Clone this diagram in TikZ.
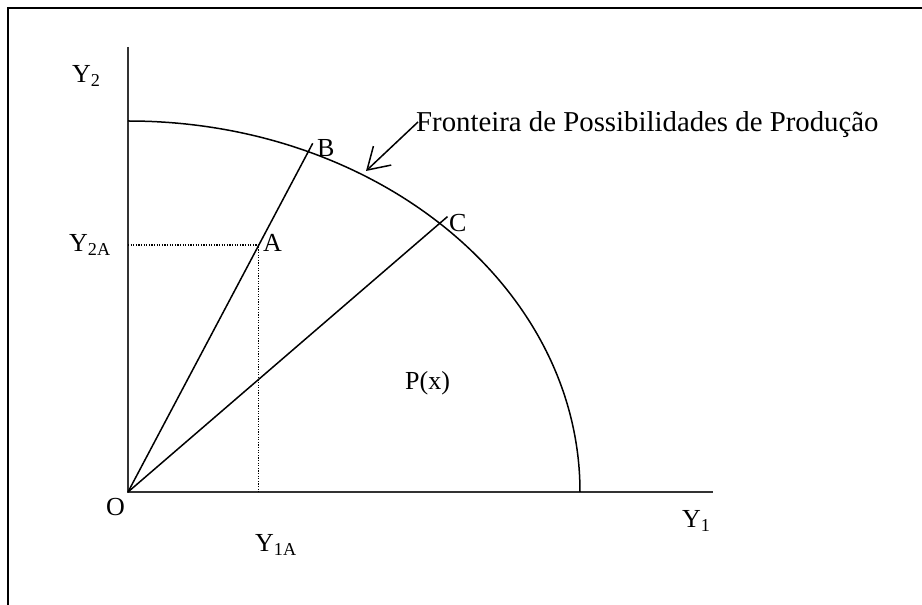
\documentclass[tikz,border=0pt]{standalone}
\usepackage{fontspec}
\setmainfont{Liberation Serif}
\usetikzlibrary{arrows.meta, calc}

\begin{document}
\begin{tikzpicture}[
    x=1pt, y=1pt,
    axis/.style={line width=2.4pt, black!80},
    curve/.style={line width=1.5pt},
    guide/.style={line width=1.2pt, dash pattern=on 1.2pt off 1.4pt},
    lbl/.style={font=\fontsize{26}{30}\selectfont, inner sep=0pt, anchor=base west},
    pointer/.style={-{Straight Barb[length=21pt, width=26pt]}, line width=1.5pt}
]
\useasboundingbox (0,0) rectangle (922,605);
% Frame
\draw[line width=2.5pt] (8,0) -- (8,597) -- (922,597);

% Axes
\coordinate (O) at (128,113);
\coordinate (y2end) at (128,558);
\coordinate (y1end) at (713,113);
\draw[axis] (y2end) -- (O) -- (y1end);

% Frontier and rays
\draw[curve] (128,484) arc[start angle=90, end angle=0, x radius=452, y radius=371];
\coordinate (B) at ($(O)+(66.5:452 and 371)$);
\coordinate (C) at ($(O)+(46.4:452 and 371)$);
\coordinate (A) at ($(O)!0.726!(B)$);
\draw[curve] (O) -- ($(O)!1.025!(B)$);
\draw[curve] (O) -- ($(O)!1.025!(C)$);
\draw[guide] (O |- A) -- (A) -- (A |- O);

% Labels
\node[lbl] (y2lbl) at (72,522) {Y\textsubscript{2}};
\node[lbl] (y2albl) at (69,353) {Y\textsubscript{2A}};
\node[lbl] (albl) at (263,353) {A};
\node[lbl] (blbl) at (317,448) {B};
\node[lbl] (clbl) at (449,373) {C};
\node[lbl] (olbl) at (106,89) {O};
\node[lbl] (y1lbl) at (682,77) {Y\textsubscript{1}};
\node[lbl] (y1albl) at (255,53) {Y\textsubscript{1A}};
\node[lbl] (pxlbl) at (405,215) {P(x)};

% Frontier caption
\node[lbl, font=\fontsize{28.8}{34}\selectfont] (fpp) at (416,473) {Fronteira de Possibilidades de Produção};
\coordinate (tip) at (366,434);
\draw[pointer] ($(fpp.base west)+(2,10)$) -- (tip);
\end{tikzpicture}
\end{document}
